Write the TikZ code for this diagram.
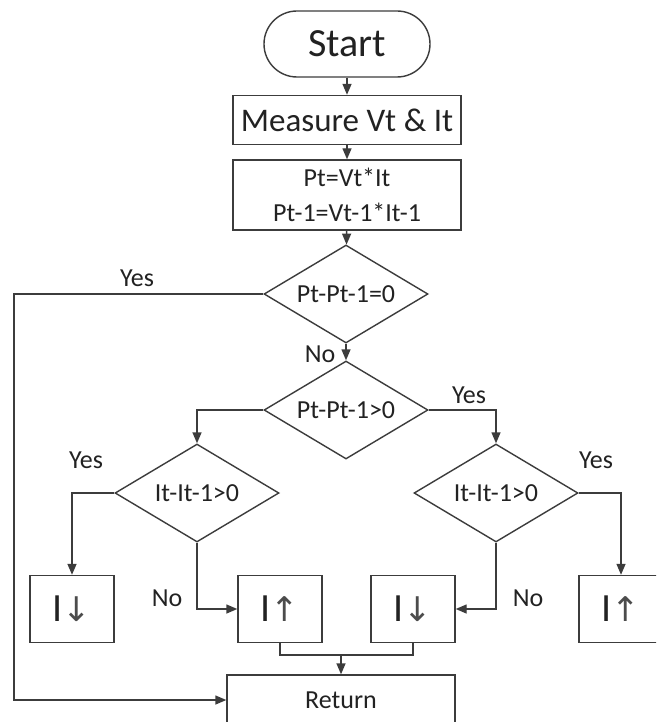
\documentclass[tikz,border=0pt]{standalone}
\usepackage{fontspec}
\setmainfont{Carlito}
\newfontfamily\arrowfont{DejaVu Sans}
\usetikzlibrary{shapes.geometric,arrows.meta,calc}
\definecolor{ln}{HTML}{3C3C3C}
\definecolor{tx}{HTML}{222222}
\tikzset{
  box/.style={draw=ln, line width=1.4pt, rectangle, inner sep=0pt, text=tx},
  term/.style={draw=ln, line width=1.4pt, rectangle, rounded corners=33pt, inner sep=0pt, text=tx},
  dec/.style={draw=ln, line width=1.4pt, diamond, aspect=1.67, inner sep=0pt,
    minimum width=164pt, minimum height=98pt, text=tx,
    font=\fontsize{26}{26}\selectfont},
  arr/.style={draw=ln, line width=1.4pt, -{Triangle[length=11pt,width=9pt]}},
  con/.style={draw=ln, line width=1.4pt},
  lbl/.style={text=tx, inner sep=0pt, font=\fontsize{26}{26}\selectfont},
}
\newcommand{\Idn}{{\fontsize{40}{40}\selectfont I}{\arrowfont\fontsize{34}{34}\selectfont\color{black!70}↓}}
\newcommand{\Iup}{{\fontsize{40}{40}\selectfont I}{\arrowfont\fontsize{34}{34}\selectfont\color{black!70}↑}}
\begin{document}
\begin{tikzpicture}[x=1pt,y=-1pt]
\useasboundingbox (0,0) rectangle (656,722);
\fill[white] (0,0) rectangle (656,722);
\begin{scope}
\clip (0,0) rectangle (656,722);
% nodes
\node[term, minimum width=166pt, minimum height=66pt, font=\fontsize{40}{40}\selectfont] (start) at (347,44) {Start};
\node[box, minimum width=228pt, minimum height=49pt, font=\fontsize{33}{33}\selectfont] (meas) at (347,120) {Measure Vt \& It};
\node[box, minimum width=228pt, minimum height=70pt, align=center, font=\fontsize{26}{35}\selectfont] (calc) at (347,195) {Pt=Vt*It\\Pt-1=Vt-1*It-1};
\node[dec] (d1) at (346,294) {Pt-Pt-1=0};
\node[dec] (d2) at (346,410) {Pt-Pt-1>0};
\node[dec] (d3) at (197,493) {It-It-1>0};
\node[dec] (d4) at (496,493) {It-It-1>0};
\node[box, minimum width=84pt, minimum height=67pt] (b1) at (72,609) {\Idn};
\node[box, minimum width=84pt, minimum height=67pt] (b2) at (280,609) {\Iup};
\node[box, minimum width=84pt, minimum height=67pt] (b3) at (413,609) {\Idn};
\node[box, minimum width=84pt, minimum height=67pt] (b4) at (621,609) {\Iup};
\node[box, minimum width=228pt, minimum height=50pt, font=\fontsize{26}{26}\selectfont] (ret) at (341,700) {Return};
% connectors
\draw[arr] (start) -- (meas);
\draw[arr] (meas) -- (calc);
\draw[arr] (calc) -- (d1);
\coordinate (lc) at (14,294);
\draw[arr] (d1.west) -- (lc) |- (ret.west);
\draw[arr] (d1.south) -- (d2.north);
\draw[arr] (d2.west) -| (d3.north);
\draw[arr] (d2.east) -| (d4.north);
\draw[arr] (d3.west) -| (b1.north);
\draw[arr] (d3.south) |- (b2.west);
\draw[arr] (d4.south) |- (b3.east);
\draw[arr] (d4.east) -| (b4.north);
\coordinate (mj) at (341,655);
\draw[con] (b2.south) |- (mj) -| (b3.south);
\draw[arr] (mj) -- (ret.north);
% labels
\node[lbl] (l1) at (137,278) {Yes};
\node[lbl] (l2) at (320,354) {No};
\node[lbl] (l3) at (469,395) {Yes};
\node[lbl] (l4) at (86,460) {Yes};
\node[lbl] (l5) at (167,598) {No};
\node[lbl] (l6) at (528,598) {No};
\node[lbl] (l7) at (596,460) {Yes};
\end{scope}
\end{tikzpicture}
\end{document}
